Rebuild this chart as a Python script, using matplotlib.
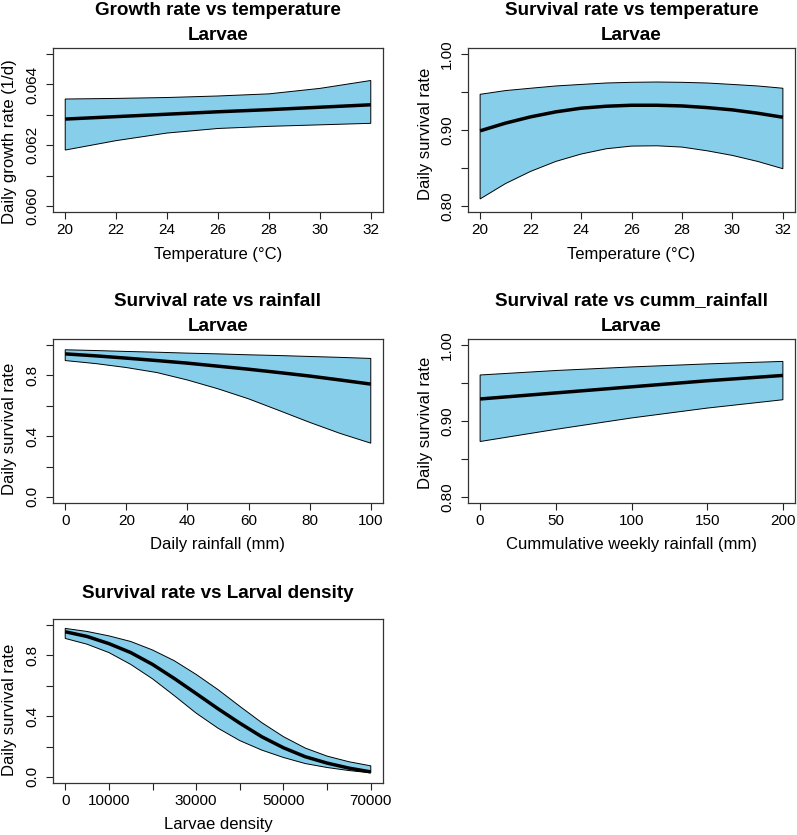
"""
Larval growth and survival rate panels (fitted mean with confidence band)
"""
import numpy as np
import matplotlib
matplotlib.use("Agg")
import matplotlib.pyplot as plt

plt.rcParams["font.family"] = ["Liberation Sans", "DejaVu Sans"]

FILL = "#87CEEB"

# growth rate vs temperature
temp_growth = [20, 22, 24, 26, 28, 30, 32]
growth_mean = [0.06286, 0.06294, 0.06302, 0.06310, 0.06317, 0.06325, 0.06333]
growth_lo = [0.06184, 0.06215, 0.06240, 0.06255, 0.06262, 0.06267, 0.06272]
growth_hi = [0.06352, 0.06354, 0.06357, 0.06362, 0.06369, 0.06387, 0.06413]

# survival vs temperature
temp_surv = [20, 21, 22, 23, 24, 25, 26, 27, 28, 29, 30, 31, 32]
temp_mean = [0.8989, 0.9090, 0.9173, 0.9239, 0.9287, 0.9313, 0.9326,
             0.9326, 0.9317, 0.9295, 0.9265, 0.9221, 0.9168]
temp_lo = [0.8092, 0.8293, 0.8455, 0.8586, 0.8683, 0.8753, 0.8788,
           0.8792, 0.8775, 0.8726, 0.8665, 0.8586, 0.8490]
temp_hi = [0.9470, 0.9519, 0.9550, 0.9580, 0.9600, 0.9619, 0.9628,
           0.9632, 0.9628, 0.9619, 0.9600, 0.9580, 0.9550]

# survival vs daily rainfall
rain = [0, 10, 20, 30, 40, 50, 60, 70, 80, 90, 100]
rain_mean = [0.942, 0.929, 0.914, 0.898, 0.881, 0.861, 0.841, 0.819,
             0.796, 0.770, 0.743]
rain_lo = [0.898, 0.878, 0.852, 0.819, 0.770, 0.712, 0.646, 0.569,
           0.491, 0.418, 0.354]
rain_hi = [0.969, 0.964, 0.958, 0.953, 0.947, 0.942, 0.936, 0.931,
           0.925, 0.919, 0.912]

# survival vs cumulative weekly rainfall
cumm = [0, 50, 100, 150, 200]
cumm_mean = [0.929, 0.937, 0.945, 0.953, 0.960]
cumm_lo = [0.873, 0.889, 0.904, 0.917, 0.928]
cumm_hi = [0.9606, 0.9665, 0.9712, 0.9752, 0.9785]

# survival vs larval density
dens = [0, 5000, 10000, 15000, 20000, 25000, 30000, 35000, 40000,
        45000, 50000, 55000, 60000, 65000, 70000]
dens_mean = [0.956, 0.925, 0.878, 0.819, 0.741, 0.648, 0.549, 0.449,
             0.354, 0.265, 0.192, 0.133, 0.091, 0.058, 0.033]
dens_lo = [0.912, 0.874, 0.819, 0.741, 0.646, 0.535, 0.420, 0.321,
           0.239, 0.177, 0.128, 0.088, 0.062, 0.042, 0.027]
dens_hi = [0.978, 0.958, 0.929, 0.892, 0.836, 0.765, 0.675, 0.575,
           0.465, 0.358, 0.265, 0.190, 0.137, 0.100, 0.073]

W, H = 797, 835
AX_W, AX_H = 330, 164


def r_lim(lo, hi):
    """R style 4% axis expansion"""
    d = (hi - lo) * 0.04
    return lo - d, hi + d


def panel(fig, left, top, x, mean, lo, hi, xlim, ylim,
          xticks, xlabels, yticks, ylabels, titles, xlab, ylab, yshift=6):
    """
    Draws one panel: confidence polygon, fitted line, R like axes
    left/top are pixel positions of the plot box
    """
    ax = fig.add_axes([left / W, 1 - (top + AX_H) / H,
                       (AX_W if left < 100 else 327) / W, AX_H / H])
    x = np.asarray(x)
    ax.fill(np.concatenate([x, x[::-1]]),
            np.concatenate([np.asarray(lo), np.asarray(hi)[::-1]]),
            facecolor=FILL, edgecolor="black", linewidth=0.7, zorder=2)
    ax.plot(x, mean, color="black", linewidth=2.5, zorder=3,
            solid_capstyle="butt")
    ax.set_xlim(*r_lim(*xlim))
    ax.set_ylim(*r_lim(*ylim))
    ax.set_xticks(xticks)
    ax.set_xticklabels(xlabels)
    ax.set_yticks(yticks)
    ax.set_yticklabels(ylabels, rotation=90, va="center")
    ax.tick_params(length=5, width=0.8, labelsize=11, pad=3,
                   color="#222222")
    ax.tick_params(axis="y", pad=5)
    for s in ax.spines.values():
        s.set_linewidth(0.9)
        s.set_color("#333333")
    ax.set_xlabel(xlab, fontsize=12)
    ax.xaxis.set_label_coords(0.5, -42 / AX_H)
    ax.xaxis.label.set_va("center")
    ax.set_ylabel(ylab, fontsize=12)
    ax.yaxis.set_label_coords(-43 / AX_W, 0.5 - yshift / AX_H)
    ax.yaxis.label.set_va("center")
    offs = [38, 13] if len(titles) == 2 else [26]
    for t, o in zip(titles, offs):
        ax.annotate(t, xy=(0.5, 1), xycoords="axes fraction",
                    xytext=(0, o * 0.72), textcoords="offset points",
                    ha="center", va="center", fontsize=13.6,
                    fontweight="bold")
    return ax


def main():
    fig = plt.figure(figsize=(W / 100, H / 100), dpi=100)
    ylab = "Daily survival rate"
    t_ticks = [20, 22, 24, 26, 28, 30, 32]
    t_labels = [str(t) for t in t_ticks]

    g_ticks = [0.060, 0.061, 0.062, 0.063, 0.064, 0.065]
    g_labels = ["0.060", "", "0.062", "", "0.064", ""]
    panel(fig, 53, 48, temp_growth, growth_mean, growth_lo, growth_hi,
          (20, 32), (0.060, 0.065), t_ticks, t_labels, g_ticks, g_labels,
          ["Growth rate vs temperature", "Larvae"],
          "Temperature (°C)", "Daily growth rate (1/d)", yshift=12)

    s_ticks = [0.80, 0.85, 0.90, 0.95, 1.00]
    s_labels = ["0.80", "", "0.90", "", "1.00"]
    panel(fig, 468, 48, temp_surv, temp_mean, temp_lo, temp_hi,
          (20, 32), (0.80, 1.00), t_ticks, t_labels, s_ticks, s_labels,
          ["Survival rate vs temperature", "Larvae"],
          "Temperature (°C)", ylab, yshift=4)

    p_ticks = [0.0, 0.2, 0.4, 0.6, 0.8, 1.0]
    p_labels = ["0.0", "", "0.4", "", "0.8", ""]
    r_ticks = [0, 20, 40, 60, 80, 100]
    panel(fig, 53, 339, rain, rain_mean, rain_lo, rain_hi,
          (0, 100), (0, 1), r_ticks, [str(t) for t in r_ticks],
          p_ticks, p_labels, ["Survival rate vs rainfall", "Larvae"],
          "Daily rainfall (mm)", ylab, yshift=8)

    c_ticks = [0, 50, 100, 150, 200]
    panel(fig, 468, 339, cumm, cumm_mean, cumm_lo, cumm_hi,
          (0, 200), (0.80, 1.00), c_ticks, [str(t) for t in c_ticks],
          s_ticks, s_labels, ["Survival rate vs cumm_rainfall", "Larvae"],
          "Cummulative weekly rainfall (mm)", ylab, yshift=2)

    d_ticks = [0, 10000, 20000, 30000, 40000, 50000, 60000, 70000]
    d_labels = ["0", "10000", "", "30000", "", "50000", "", "70000"]
    panel(fig, 53, 619, dens, dens_mean, dens_lo, dens_hi,
          (0, 70000), (0, 1), d_ticks, d_labels, p_ticks, p_labels,
          ["Survival rate vs Larval density"], "Larvae density", ylab,
          yshift=9)

    fig.savefig("out.png", dpi=100)


if __name__ == "__main__":
    main()
